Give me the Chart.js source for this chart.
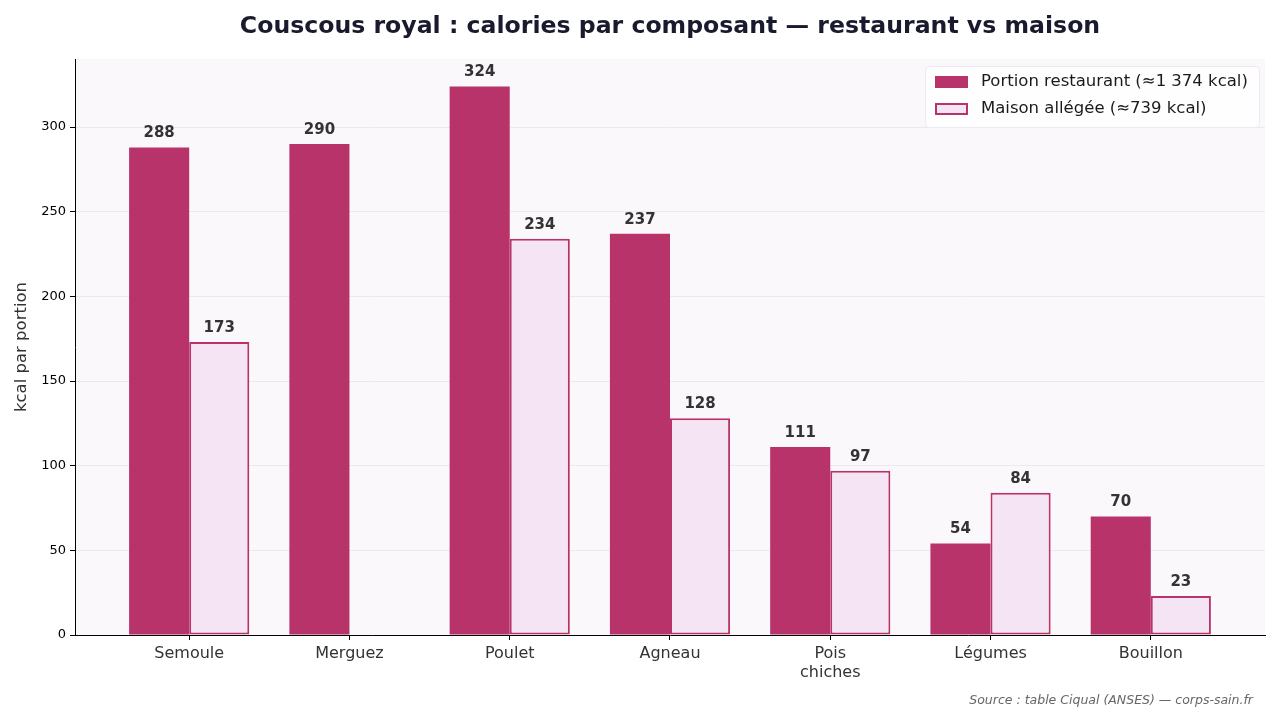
<!DOCTYPE html>
<html>
<head>
<meta charset="utf-8">
<script src="https://cdn.jsdelivr.net/npm/chart.js@4.4.1/dist/chart.umd.min.js"></script>
<style>
  html, body { margin: 0; padding: 0; background: #ffffff; }
  #wrap { width: 1280px; height: 720px; position: relative; }
</style>
</head>
<body>
<div id="wrap"><canvas id="c" width="1280" height="720"></canvas></div>
<script>
const titleText = 'Couscous royal : calories par composant — restaurant vs maison';
const sourceText = 'Source : table Ciqual (ANSES) — corps-sain.fr';
const yTitle = 'kcal par portion';
const categories = ['Semoule', 'Merguez', 'Poulet', 'Agneau', ['Pois', 'chiches'], 'Légumes', 'Bouillon'];
const seriesNames = ['Portion restaurant (≈1 374 kcal)', 'Maison allégée (≈739 kcal)'];
const restaurant = [288, 290, 324, 237, 111, 54, 70];
const maison = [173, 0, 234, 128, 97, 84, 23];
const yTicks = [0, 50, 100, 150, 200, 250, 300];

const FONT = '"DejaVu Sans", "Liberation Sans", sans-serif';
const RED = '#b8336a';
const PINK = '#f5e4f4';

const toPoints = arr => arr.map((v, i) => ({ x: i, y: v }));

const decorPlugin = {
  id: 'decor',
  beforeDraw(chart) {
    const { ctx, chartArea: a } = chart;
    ctx.save();
    ctx.fillStyle = '#fbf8fc';
    ctx.fillRect(a.left, a.top, a.right - a.left, a.bottom - a.top);
    ctx.restore();
  },
  afterDatasetsDraw(chart) {
    const { ctx } = chart;
    ctx.save();
    ctx.font = 'bold 15px ' + FONT;
    ctx.fillStyle = '#333333';
    ctx.textAlign = 'center';
    ctx.textBaseline = 'middle';
    chart.data.datasets.forEach((ds, di) => {
      const meta = chart.getDatasetMeta(di);
      meta.data.forEach((el, i) => {
        const v = ds.data[i].y;
        if (v > 0) ctx.fillText(String(v), el.x, el.y - 14);
      });
    });
    ctx.restore();
  },
  afterDraw(chart) {
    const { ctx, chartArea: a } = chart;
    ctx.save();
    // title
    ctx.font = 'bold 23.6px ' + FONT;
    ctx.fillStyle = '#1a1a2e';
    ctx.textAlign = 'center';
    ctx.textBaseline = 'middle';
    ctx.fillText(titleText, (a.left + a.right) / 2, 27);
    // source
    ctx.font = 'italic 12.5px ' + FONT;
    ctx.fillStyle = '#666666';
    ctx.textAlign = 'right';
    ctx.fillText(sourceText, 1253, 701);
    // legend
    const bx = 925, by = 66, bw = 334, bh = 61;
    ctx.fillStyle = 'rgba(255,255,255,0.8)';
    ctx.strokeStyle = '#eee9f0';
    ctx.lineWidth = 1;
    ctx.beginPath();
    ctx.roundRect(bx + 0.5, by + 0.5, bw, bh, 4);
    ctx.fill();
    ctx.stroke();
    ctx.font = '16.5px ' + FONT;
    ctx.textAlign = 'left';
    ctx.textBaseline = 'middle';
    chart.data.datasets.forEach((ds, di) => {
      const cy = 82 + di * 27;
      ctx.fillStyle = ds.backgroundColor;
      ctx.fillRect(935, cy - 6, 33, 12);
      if (ds.borderWidth > 0) {
        ctx.strokeStyle = ds.borderColor;
        ctx.lineWidth = ds.borderWidth;
        ctx.strokeRect(936, cy - 5, 31, 10);
      }
      ctx.fillStyle = '#1a1a1a';
      ctx.fillText(ds.label, 981, cy);
    });
    ctx.restore();
  }
};

new Chart(document.getElementById('c'), {
  type: 'bar',
  data: {
    datasets: [
      {
        label: seriesNames[0],
        data: toPoints(restaurant),
        backgroundColor: RED,
        borderColor: RED,
        borderWidth: 0,
        borderSkipped: false,
        barPercentage: 1,
        categoryPercentage: 0.75
      },
      {
        label: seriesNames[1],
        data: toPoints(maison),
        backgroundColor: PINK,
        borderColor: RED,
        borderWidth: 2,
        borderSkipped: false,
        barPercentage: 1,
        categoryPercentage: 0.75
      }
    ]
  },
  options: {
    responsive: false,
    animation: false,
    devicePixelRatio: 1,
    parsing: { xAxisKey: 'x', yAxisKey: 'y' },
    layout: { padding: { top: 59, left: 0, right: 15, bottom: 0 } },
    plugins: {
      legend: { display: false },
      title: { display: false },
      tooltip: { enabled: false }
    },
    scales: {
      x: {
        type: 'linear',
        min: -0.7125,
        max: 6.7125,
        offset: false,
        afterBuildTicks: s => { s.ticks = categories.map((c, i) => ({ value: i })); },
        afterFit: s => { s.height = 85; },
        ticks: {
          callback: (v) => categories[v],
          color: '#333333',
          font: { family: FONT, size: 16 },
          padding: 4,
          maxRotation: 0,
          autoSkip: false
        },
        grid: {
          offset: false,
          drawOnChartArea: false,
          drawTicks: true,
          tickLength: 5,
          tickColor: '#000000',
          color: '#000000'
        },
        border: { display: true, color: '#000000', width: 1 }
      },
      y: {
        type: 'linear',
        min: 0,
        max: 340.2,
        afterBuildTicks: s => { s.ticks = yTicks.map(v => ({ value: v })); },
        afterFit: s => { s.width = 75; },
        ticks: {
          color: '#000000',
          font: { family: FONT, size: 13 },
          padding: 4
        },
        grid: {
          color: '#ece8ee',
          lineWidth: 1,
          drawTicks: true,
          tickLength: 5,
          tickColor: '#000000'
        },
        border: { display: true, color: '#000000', width: 1 },
        title: {
          display: true,
          text: yTitle,
          color: '#333333',
          font: { family: FONT, size: 16.5 },
          padding: { top: 12, bottom: 0 }
        }
      }
    }
  },
  plugins: [decorPlugin]
});
</script>
</body>
</html>
